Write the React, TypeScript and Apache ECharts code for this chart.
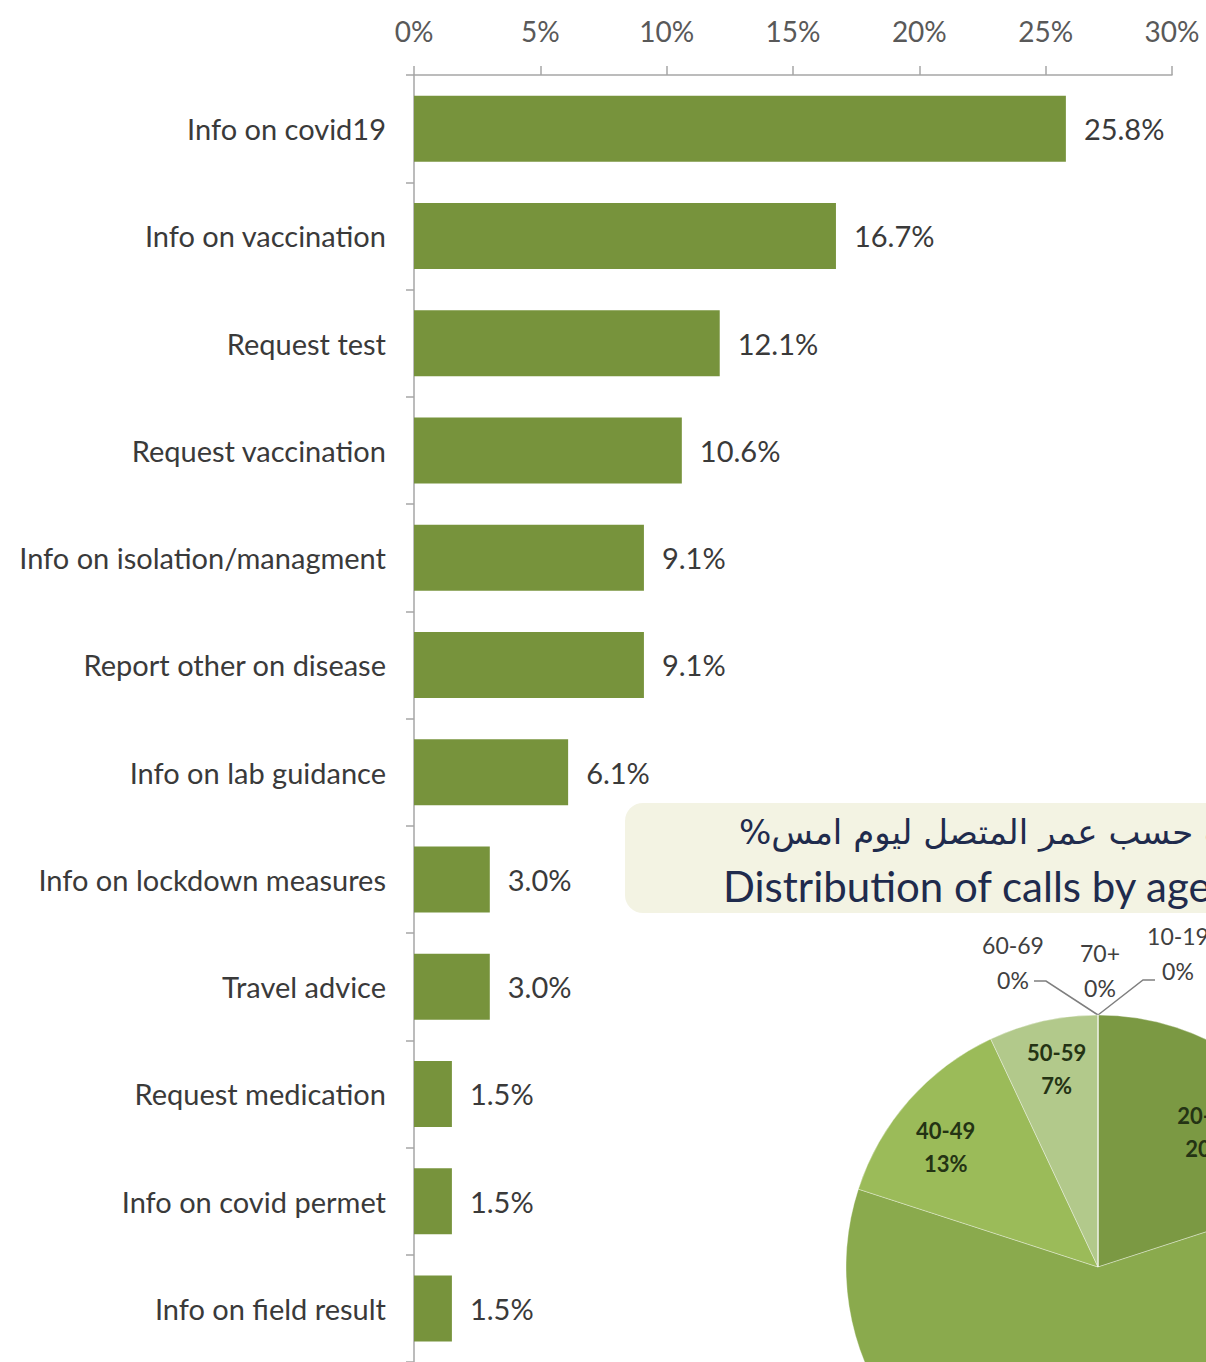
import React, { useEffect, useRef } from "react";
import * as echarts from "echarts";

const categories = [
  "Info on covid19",
  "Info on vaccination",
  "Request test",
  "Request vaccination",
  "Info on isolation/managment",
  "Report other on disease",
  "Info on lab guidance",
  "Info on lockdown measures",
  "Travel advice",
  "Request medication",
  "Info on covid permet",
  "Info on field result",
];
const values = [25.8, 16.7, 12.1, 10.6, 9.1, 9.1, 6.1, 3.0, 3.0, 1.5, 1.5, 1.5];
const xTickValues = [0, 5, 10, 15, 20, 25, 30];

const ageGroups = ["10-19", "20-29", "30-39", "40-49", "50-59", "60-69", "70+"];
const agePercents = [0, 20, 60, 13, 7, 0, 0];
const ageColors = ["#7b9943", "#7b9943", "#8aaa4d", "#9bbb59", "#b2c98b", "#b2c98b", "#b2c98b"];

const titleArabic = "%توزيع المكالمات حسب عمر المتصل ليوم امس";
const titleEnglish = "Distribution of calls by age group";

const FONT = "Lato";

const zeroLabelPos: Record<string, { x: number; y: number; line: number[][] | null }> = {
  "60-69": { x: 1013, y: 962, line: [[1098, 1015], [1046, 981], [1034, 981]] },
  "70+": { x: 1100, y: 970, line: null },
  "10-19": { x: 1178, y: 953, line: [[1098, 1015], [1143, 980], [1155, 980]] },
};
const innerLabelShift: Record<string, { dx: number; dy: number }> = {
  "20-29": { dx: -8, dy: 26 },
  "40-49": { dx: -3, dy: 12 },
  "50-59": { dx: 2, dy: -4 },
};

export default function App() {
  const ref = useRef<HTMLDivElement>(null);
  useEffect(() => {
    document.body.style.margin = "0";
    if (!ref.current) return;
    const chart = echarts.init(ref.current, undefined, { renderer: "svg" });
    const pieMain = ageGroups.map((name, i) => {
      const zero = agePercents[i] === 0;
      return {
        name,
        value: agePercents[i],
        itemStyle: { color: ageColors[i] },
        label: { show: zero },
        labelLine: { show: zero && zeroLabelPos[name] && zeroLabelPos[name].line !== null },
      };
    });
    const pieInner = ageGroups.map((name, i) => ({
      name,
      value: agePercents[i],
      label: { show: agePercents[i] !== 0 },
    }));
    chart.setOption({
      animation: false,
      backgroundColor: "#ffffff",
      textStyle: { fontFamily: FONT },
      grid: { left: 414, top: 75, width: 758, height: 1290, containLabel: false },
      xAxis: {
        type: "value",
        position: "top",
        min: xTickValues[0],
        max: xTickValues[xTickValues.length - 1],
        interval: xTickValues[1] - xTickValues[0],
        axisLine: { show: true, lineStyle: { color: "#a6a6a6", width: 1.5 } },
        axisTick: { show: true, length: 9, lineStyle: { color: "#a6a6a6", width: 1.5 } },
        splitLine: { show: false },
        axisLabel: {
          formatter: "{value}%",
          color: "#595959",
          fontSize: 28,
          fontFamily: FONT,
          margin: 30,
        },
      },
      yAxis: {
        type: "category",
        inverse: true,
        data: categories,
        axisLine: { show: true, lineStyle: { color: "#a6a6a6", width: 1.5 } },
        axisTick: { show: true, length: 8, lineStyle: { color: "#a6a6a6", width: 1.5 } },
        axisLabel: { color: "#3a3a3a", fontSize: 29, fontFamily: FONT, margin: 28 },
      },
      graphic: [
        {
          type: "rect",
          z: 0,
          shape: { x: 625, y: 803, width: 720, height: 110, r: 18 },
          style: { fill: "#f3f3e3" },
        },
        {
          type: "text",
          z: 1,
          x: 739,
          y: 832,
          style: {
            text: titleArabic,
            fill: "#1f2b4d",
            font: "34px 'DejaVu Sans'",
            align: "left",
            verticalAlign: "middle",
          },
        },
        {
          type: "text",
          z: 1,
          x: 723,
          y: 886,
          style: {
            text: titleEnglish,
            fill: "#1f2b4d",
            font: "42px Lato",
            align: "left",
            verticalAlign: "middle",
          },
        },
      ],
      series: [
        {
          type: "bar",
          data: values,
          barWidth: 66,
          itemStyle: { color: "#77933c" },
          label: {
            show: true,
            position: "right",
            distance: 18,
            color: "#3a3a3a",
            fontSize: 29,
            fontFamily: FONT,
            formatter: (p: any) => p.value.toFixed(1) + "%",
          },
        },
        {
          type: "pie",
          center: [1098, 1267],
          radius: [0, 252],
          startAngle: 90,
          clockwise: true,
          avoidLabelOverlap: false,
          minShowLabelAngle: 0,
          data: pieMain,
          itemStyle: { borderColor: "rgba(255,255,255,0.35)", borderWidth: 1 },
          label: {
            position: "outside",
            formatter: "{b}\n{c}%",
            color: "#404040",
            fontSize: 23,
            lineHeight: 35,
            fontFamily: FONT,
            align: "center",
          },
          labelLine: { lineStyle: { color: "#7f7f7f", width: 1.5 } },
          labelLayout: (params: any) => {
            const name = ageGroups[params.dataIndex];
            const pos = zeroLabelPos[name];
            if (!pos) return {};
            const out: any = { x: pos.x, y: pos.y, align: "center", verticalAlign: "middle" };
            if (pos.line) out.labelLinePoints = pos.line;
            return out;
          },
          emphasis: { disabled: true },
        },
        {
          type: "pie",
          center: [1098, 1267],
          radius: [140, 252],
          startAngle: 90,
          clockwise: true,
          silent: true,
          data: pieInner,
          itemStyle: { color: "rgba(0,0,0,0)" },
          label: {
            position: "inside",
            formatter: "{b}\n{c}%",
            color: "#243314",
            fontSize: 22,
            lineHeight: 33,
            fontWeight: "bold",
            fontFamily: FONT,
          },
          labelLine: { show: false },
          labelLayout: (params: any) => {
            const s = innerLabelShift[ageGroups[params.dataIndex]];
            return s ? { dx: s.dx, dy: s.dy } : {};
          },
          emphasis: { disabled: true },
        },
      ],
    });
    return () => chart.dispose();
  }, []);
  return <div ref={ref} style={{ width: 1206, height: 1362 }} />;
}
